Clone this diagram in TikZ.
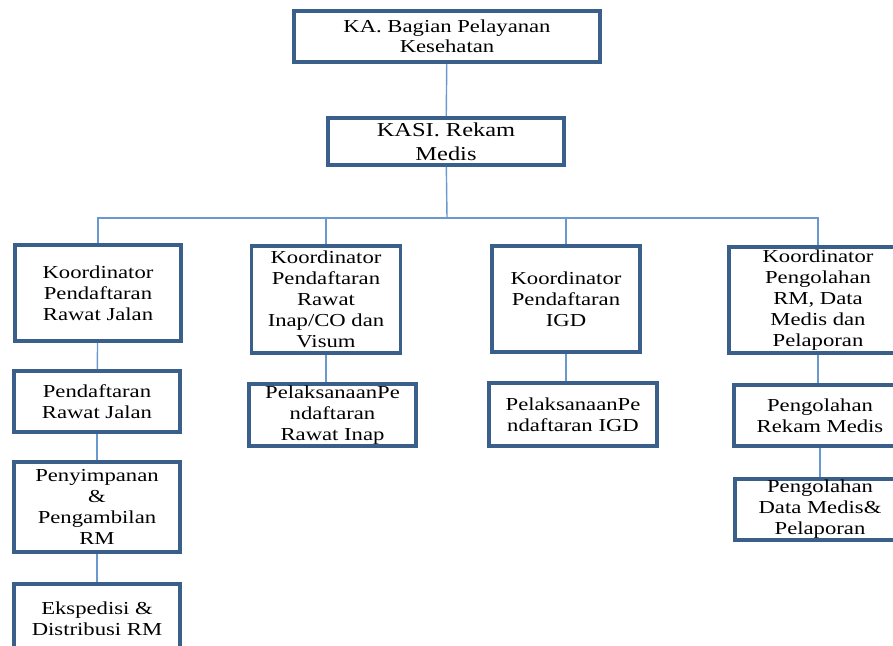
\documentclass[tikz,border=0pt]{standalone}
\usepackage{fontspec}
\setmainfont{Liberation Serif}[FakeStretch=1.24]
\usepackage{xcolor}
\usetikzlibrary{positioning}
\definecolor{boxblue}{HTML}{3A5F8B}
\definecolor{linkblue}{HTML}{6A98D0}

\begin{document}
\begin{tikzpicture}[x=0.025cm, y=-0.025cm,
    unit/.style={draw=boxblue, line width=2.8pt, fill=white, inner sep=0pt,
      align=center, font=\fontsize{13}{15}\selectfont},
    link/.style={draw=linkblue, line width=1pt}]
      \useasboundingbox (0,0) rectangle (893,645);
      \clip (0,0) rectangle (893,645);

      \node[unit, minimum width=7.65cm, minimum height=1.275cm, font=\fontsize{13}{14.2}\selectfont] (kabag) at (447,36.5) {KA. Bagian Pelayanan\\Kesehatan};
      \node[unit, minimum width=5.9cm, minimum height=1.175cm, font=\fontsize{14}{17}\selectfont] (kasi) at (446,141.5) {KASI. Rekam\\Medis};

      \node[unit, minimum width=4.15cm, minimum height=2.4cm] (korRJ) at (98,293) {Koordinator\\Pendaftaran\\Rawat Jalan};
      \node[unit, minimum width=4.15cm, minimum height=1.525cm] (dafRJ) at (97,401.5) {Pendaftaran\\Rawat Jalan};
      \node[unit, minimum width=4.15cm, minimum height=2.25cm] (simpan) at (97,507) {Penyimpanan\\\&\\Pengambilan\\RM};
      \node[unit, minimum width=4.15cm, minimum height=1.75cm] (ekspedisi) at (97,619) {Ekspedisi \&\\Distribusi RM};

      \node[unit, minimum width=3.725cm, minimum height=2.675cm] (korRI) at (326,299.5) {Koordinator\\Pendaftaran\\Rawat\\Inap/CO dan\\Visum};
      \node[unit, minimum width=4.175cm, minimum height=1.55cm] (lakRI) at (332.5,415) {PelaksanaanPe\\ndaftaran\\Rawat Inap};

      \node[unit, minimum width=3.7cm, minimum height=2.65cm] (korIGD) at (566,299) {Koordinator\\Pendaftaran\\IGD};
      \node[unit, minimum width=4.2cm, minimum height=1.575cm] (lakIGD) at (573,414.5) {PelaksanaanPe\\ndaftaran IGD};

      \node[unit, minimum width=4.45cm, minimum height=2.65cm] (korPO) at (818,300) {Koordinator\\Pengolahan\\RM, Data\\Medis dan\\Pelaporan};
      \node[unit, minimum width=4.3cm, minimum height=1.525cm] (olahRM) at (820,415.5) {Pengolahan\\Rekam Medis};
      \node[unit, minimum width=4.25cm, minimum height=1.525cm] (olahData) at (820,509.5) {Pengolahan\\Data Medis\&\\Pelaporan};

      \coordinate (bus) at (447,218);

      \draw[link] (kabag) -- (kasi);
      \draw[link] (kasi) -- (bus);
      \draw[link] (bus) -| (korRJ.north);
      \draw[link] (bus) -| (korRI.north);
      \draw[link] (bus) -| (korIGD.north);
      \draw[link] (bus) -| (korPO.north);

      \draw[link] (korRJ) -- (dafRJ);
      \draw[link] (dafRJ) -- (simpan);
      \draw[link] (simpan) -- (ekspedisi);
      \draw[link] (korRI.south) -- (korRI.south |- lakRI.north);
      \draw[link] (korIGD.south) -- (korIGD.south |- lakIGD.north);
      \draw[link] (korPO.south) -- (korPO.south |- olahRM.north);
      \draw[link] (olahRM.south) -- (olahRM.south |- olahData.north);
    \end{tikzpicture}
\end{document}
